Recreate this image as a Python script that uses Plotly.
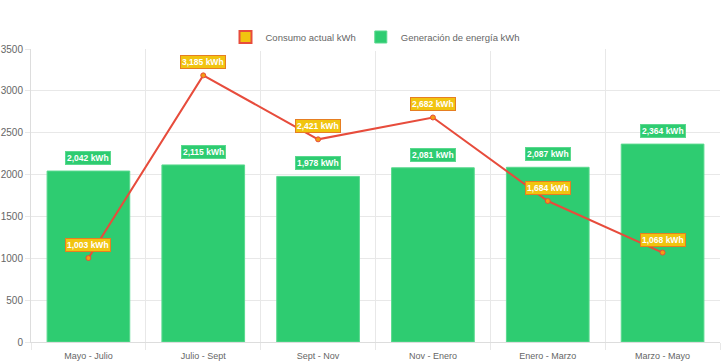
import plotly.graph_objects as go

categories = ["Mayo - Julio", "Julio - Sept", "Sept - Nov", "Nov - Enero", "Enero - Marzo", "Marzo - Mayo"]
consumo = [1003, 3185, 2421, 2682, 1684, 1068]
generacion = [2042, 2115, 1978, 2081, 2087, 2364]
y_ticks = [0, 500, 1000, 1500, 2000, 2500, 3000, 3500]

xs = list(range(len(categories)))
FONT = "Liberation Sans, Arial, sans-serif"

fig = go.Figure()

# legend proxy for line series (chart.js-style box)
fig.add_trace(go.Bar(x=[None], y=[None], name="Consumo actual kWh",
                     marker=dict(color="#f1c40f", line=dict(color="#e74c3c", width=2)),
                     showlegend=True, hoverinfo="skip"))

fig.add_trace(go.Bar(x=xs, y=generacion, name="Generación de energía kWh",
                     width=0.72,
                     marker=dict(color="#2ecc71", line=dict(color="#5ad98e", width=1))))

fig.add_trace(go.Scatter(x=xs, y=consumo, mode="lines+markers", name="Consumo actual kWh",
                         showlegend=False,
                         line=dict(color="#e74c3c", width=2),
                         marker=dict(size=5, color="#f39c12", line=dict(color="#e74c3c", width=1))))

annotations = []
for x, v in zip(xs, generacion):
    annotations.append(dict(x=x, y=v, text=f"<b>{v:,} kWh</b>", showarrow=False,
                            yshift=13, font=dict(family=FONT, size=8.5, color="white"),
                            bgcolor="#2ecc71", bordercolor="#5ad98e", borderwidth=1, borderpad=1))
for x, v in zip(xs, consumo):
    annotations.append(dict(x=x, y=v, text=f"<b>{v:,} kWh</b>", showarrow=False,
                            yshift=13, font=dict(family=FONT, size=8.5, color="white"),
                            bgcolor="#f1c40f", bordercolor="#e67e22", borderwidth=1, borderpad=1))

fig.update_layout(
    width=728, height=363,
    margin=dict(l=31, r=8, t=49, b=21, autoexpand=False),
    paper_bgcolor="white", plot_bgcolor="white",
    font=dict(family=FONT, size=11, color="#666666"),
    barmode="overlay",
    showlegend=True,
    legend=dict(orientation="h", x=0.5, xanchor="center", y=1.041, yanchor="middle",
                font=dict(size=9.5, color="#666666"), traceorder="normal"),
    annotations=annotations,
    xaxis=dict(range=[-0.5, 5.5], tickmode="array", tickvals=xs, ticktext=categories,
               showgrid=False, zeroline=False, showline=True, linecolor="#dddddd",
               ticks="outside", ticklen=5, tickcolor="rgba(0,0,0,0)",
               automargin=False, tickfont=dict(size=9, color="#666666"),
               minor=dict(tickmode="array", tickvals=[i - 0.5 for i in range(7)],
                          showgrid=True, gridcolor="#e8e8e8", ticks="outside",
                          ticklen=7, tickcolor="#e8e8e8")),
    yaxis=dict(range=[0, 3500], tickmode="array", tickvals=y_ticks,
               showgrid=True, gridcolor="#e8e8e8", zeroline=False,
               showline=True, linecolor="#dddddd", automargin=False,
               ticks="outside", ticklen=5, tickcolor="#e8e8e8",
               tickfont=dict(size=10, color="#666666")),
)

fig.write_html("out.html", post_script="document.body.style.margin='0';",
               config={"displayModeBar": False})
